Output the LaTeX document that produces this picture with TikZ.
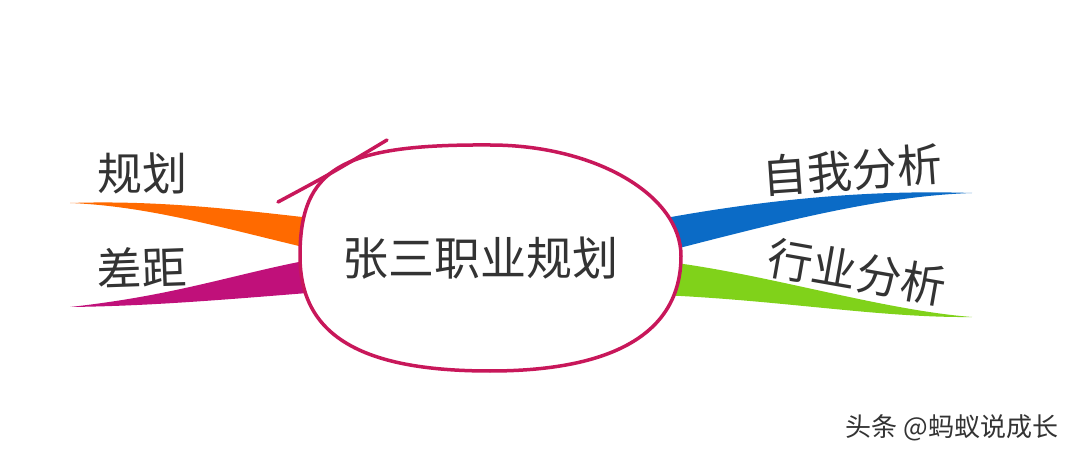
\documentclass[tikz,border=0pt]{standalone}
\usepackage{fontspec}
\setmainfont{Noto Sans CJK SC}
\definecolor{ring}{HTML}{C8175A}
\definecolor{ink}{HTML}{333333}
\definecolor{planc}{HTML}{FF6A00}
\definecolor{gapc}{HTML}{C0107A}
\definecolor{selfc}{HTML}{0B6BC6}
\definecolor{tradec}{HTML}{80D21A}
\begin{document}
\begin{tikzpicture}[x=1pt, y=-1pt,
    rim/.style={draw=ring, fill=white, line width=3.5pt},
    title/.style={text=ink, font=\fontsize{46}{50}\selectfont, inner sep=0pt},
    leaf/.style={text=ink, font=\fontsize{45}{50}\selectfont, inner sep=0pt},
    credit/.style={text=ink, font=\fontsize{26}{30}\selectfont, inner sep=0pt}]
    \useasboundingbox[fill=white] (0,0) rectangle (1080,457);
    % branches, drawn first so the ring hides their ends
    \coordinate (plan tip) at (70,203);
    \coordinate (gap tip) at (70,307);
    \coordinate (self tip) at (972,193);
    \coordinate (trade tip) at (972,317);
    \fill[planc] (plan tip) .. controls (160,200) and (240,210) .. (320,219)
      -- (320,251) .. controls (230,230) and (150,206) .. (plan tip) -- cycle;
    \fill[gapc] (gap tip) .. controls (180,295) and (240,272) .. (320,258)
      -- (320,292) .. controls (220,300) and (150,306) .. (gap tip) -- cycle;
    \fill[selfc] (660,219) .. controls (780,197) and (880,190) .. (self tip)
      .. controls (880,196) and (780,222) .. (660,253) -- cycle;
    \fill[tradec] (660,261) .. controls (760,272) and (880,310) .. (trade tip)
      .. controls (880,318) and (780,300) .. (660,295) -- cycle;
    % hand drawn ring round the title
    \coordinate (ring w) at (300,256);
    \coordinate (ring n) at (490,145);
    \coordinate (ring e) at (681,256);
    \coordinate (ring s) at (490,371);
    \draw[rim] (ring w) .. controls (300,168) and (342,144) .. (ring n)
      .. controls (595,145) and (681,195) .. (ring e)
      .. controls (681,335) and (610,371) .. (ring s)
      .. controls (360,371) and (300,335) .. (ring w) -- cycle;
    \draw[ring, line width=3.5pt, line cap=round] (278,202) .. controls (332,173) .. (387,140);
    \node[title] (topic) at (480,258) {张三职业规划};
    % labels
    \node[leaf] (plan) at (142,173) {规划};
    \node[leaf, rotate=2] (gap) at (142,267) {差距};
    \node[leaf, rotate=4] (self) at (852,170) {自我分析};
    \node[leaf, rotate=-10] (trade) at (857,272) {行业分析};
    \node[credit] (credit) at (952,428) {头条 @蚂蚁说成长};
\end{tikzpicture}
\end{document}
